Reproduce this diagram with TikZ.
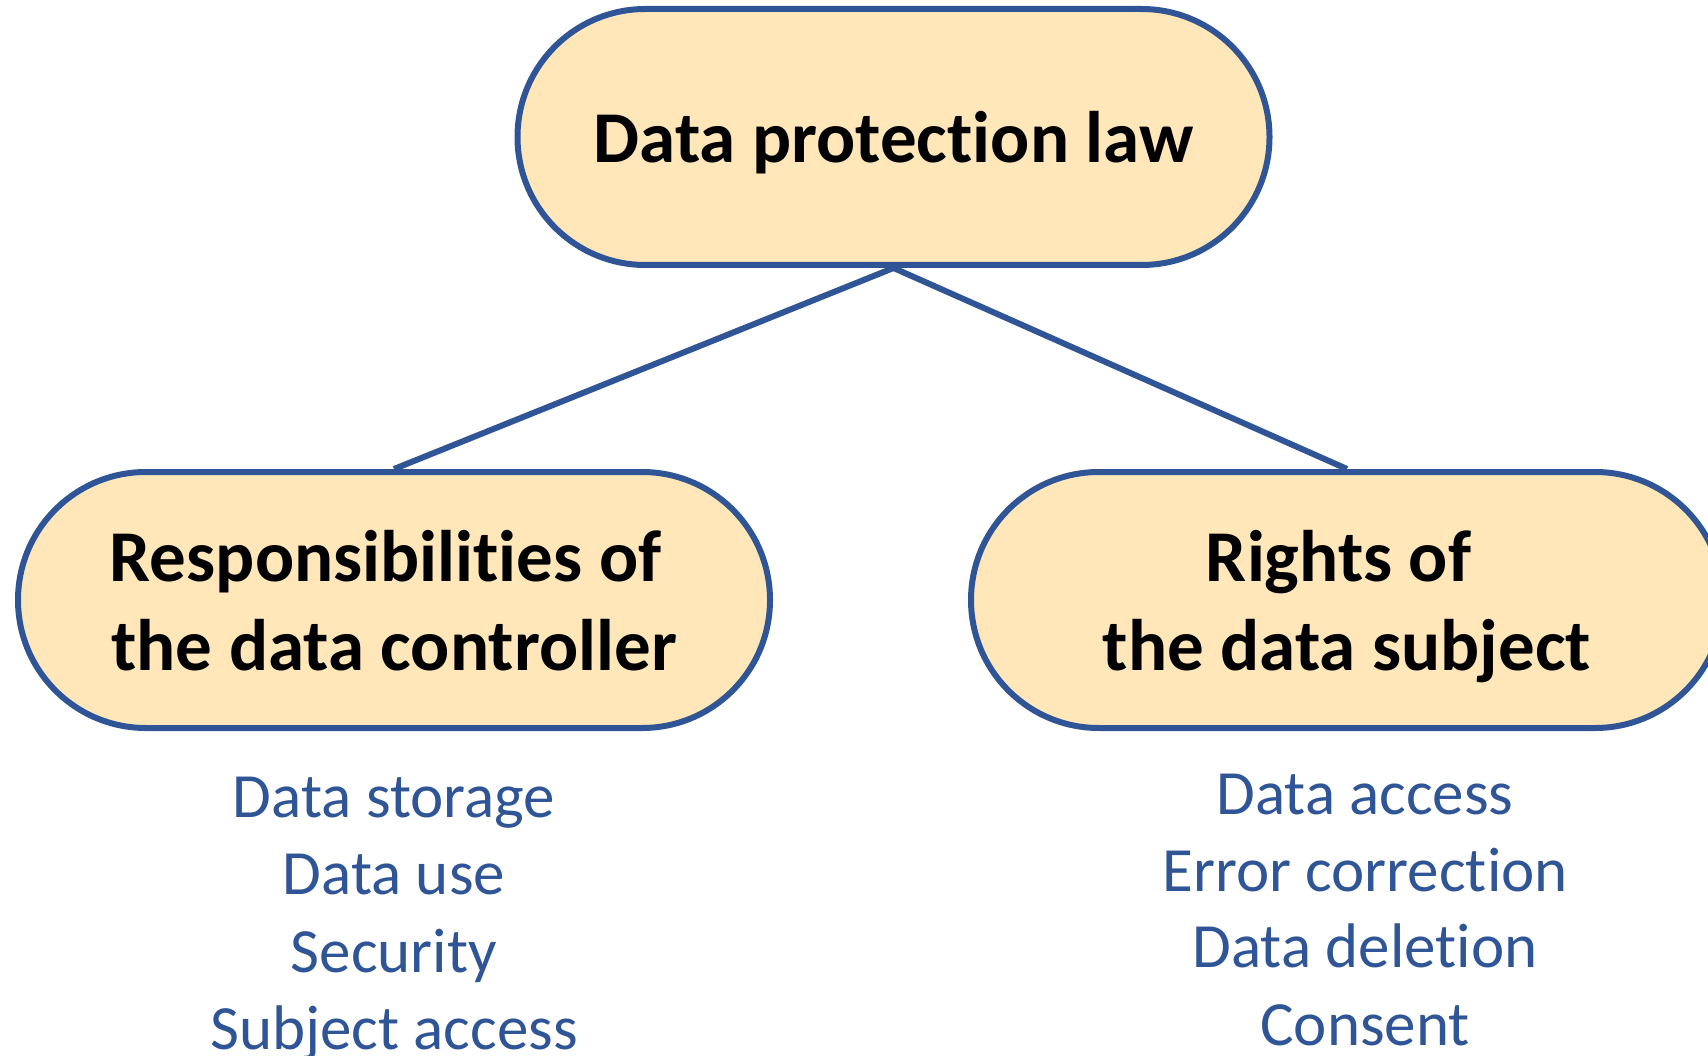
\documentclass[tikz,border=0pt]{standalone}
\usepackage{fontspec}
\setmainfont{Carlito}[Ligatures={NoCommon}, RawFeature={-liga;-dlig}]
\definecolor{pillfill}{HTML}{FFE7BA}
\definecolor{navy}{HTML}{2F5597}
\tikzset{
  pill/.style={draw=navy, line width=6pt, fill=pillfill, rounded corners=127.9pt,
    minimum width=752pt, minimum height=256pt, inner sep=0pt, align=center,
    font=\fontsize{73}{89}\selectfont\bfseries},
  twoline/.style={text height=140pt, text depth=0pt},
  item/.style={text=navy, font=\fontsize{63}{77}\selectfont, anchor=base, inner sep=0pt},
  link/.style={draw=navy, line width=6pt}
}
\begin{document}
\begin{tikzpicture}[x=1pt,y=-1pt]
\useasboundingbox (0,0) rectangle (1708,1056);
\clip (0,0) rectangle (1708,1056);
\node[pill, text depth=0pt] (law) at (893.5,137) {Data protection law};
\node[pill, twoline] (resp) at (394,600) {Responsibilities of\kern0.23em\\the data controller};
\node[pill, twoline] (rights) at (1347,600) {Rights of\kern0.23em\\the data subject};
\draw[link] (law.south) -- (resp.north);
\draw[link] (law.south) -- (rights.north);
\node[item] (l1) at (394,817) {Data storage};
\node[item] (l2) at (394,894) {Data use};
\node[item] (l3) at (394,972) {Security};
\node[item] (l4) at (394,1049) {Subject access};
\node[item] (r1) at (1365,814) {Data access};
\node[item] (r2) at (1365,891) {Error correction};
\node[item] (r3) at (1365,967) {Data deletion};
\node[item] (r4) at (1365,1045) {Consent};
\end{tikzpicture}
\end{document}
